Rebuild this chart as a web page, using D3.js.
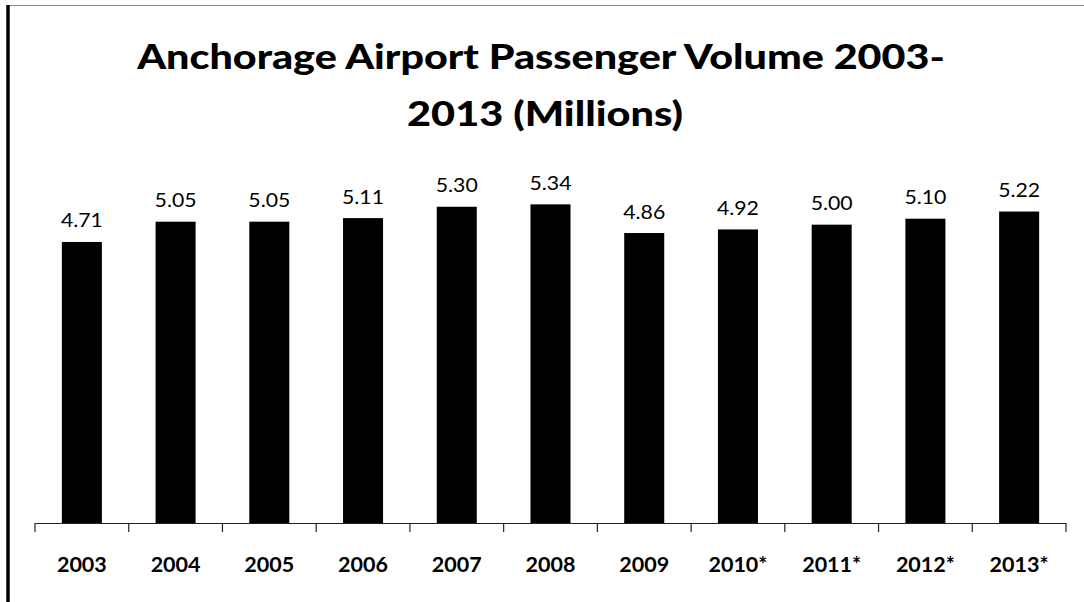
<!DOCTYPE html>
<html>
<head>
<meta charset="utf-8">
<script src="https://cdn.jsdelivr.net/npm/d3@7"></script>
<style>
  html, body { margin: 0; padding: 0; background: #fff; }
  svg { display: block; }
</style>
</head>
<body>
<script>
// Passenger volume at Anchorage airport, millions (starred years are estimates)
const years = ["2003", "2004", "2005", "2006", "2007", "2008", "2009", "2010*", "2011*", "2012*", "2013*"];
const passengers = [4.71, 5.05, 5.05, 5.11, 5.30, 5.34, 4.86, 4.92, 5.00, 5.10, 5.22];
const titleLines = ["Anchorage Airport Passenger Volume 2003-", "2013 (Millions)"];

const W = 1084, H = 602;
const svg = d3.select("body").append("svg").attr("width", W).attr("height", H);

// frame: thin grey top edge, heavy black left edge
svg.append("line").attr("x1", 8).attr("x2", W).attr("y1", 5.5).attr("y2", 5.5)
  .attr("stroke", "#8a8a8a").attr("stroke-width", 1.2);
svg.append("line").attr("x1", 8).attr("x2", 8).attr("y1", 5).attr("y2", H)
  .attr("stroke", "#000").attr("stroke-width", 3.5);

const plot = { left: 35, right: 1066, top: 165, bottom: 523 };

const x = d3.scaleBand().domain(years).range([plot.left, plot.right])
  .paddingInner(0.573).paddingOuter(0.2865);
const y = d3.scaleLinear().domain([0, 6]).range([plot.bottom, plot.top]);

// stretch a centred text horizontally so it spans the given width
function fitWidth(sel, target) {
  sel.each(function () {
    const t = d3.select(this);
    const cx = +t.attr("x");
    const w = this.getComputedTextLength();
    const sx = target / w;
    t.attr("transform", `translate(${cx},0) scale(${sx.toFixed(3)},1) translate(${-cx},0)`);
  });
}

const font = "Lato, 'Open Sans', sans-serif";

// title
svg.append("text").attr("x", 541).attr("y", 69).attr("text-anchor", "middle")
  .attr("font-family", font).attr("font-weight", 900).attr("font-size", 34)
  .text(titleLines[0]).call(fitWidth, 808);
svg.append("text").attr("x", 545).attr("y", 126).attr("text-anchor", "middle")
  .attr("font-family", font).attr("font-weight", 900).attr("font-size", 34)
  .text(titleLines[1]).call(fitWidth, 276);

// bars
const data = years.map((yr, i) => ({ yr, v: passengers[i] }));
svg.append("g").selectAll("rect").data(data).join("rect")
  .attr("x", d => x(d.yr))
  .attr("y", d => y(d.v))
  .attr("width", x.bandwidth())
  .attr("height", d => y(0) - y(d.v))
  .attr("fill", "#000");

// value labels
svg.append("g").selectAll("text").data(data).join("text")
  .attr("x", d => x(d.yr) + x.bandwidth() / 2)
  .attr("y", d => y(d.v) - 14.5)
  .attr("text-anchor", "middle")
  .attr("font-family", font).attr("font-size", 18.5).attr("fill", "#000")
  .text(d => d.v.toFixed(2))
  .call(fitWidth, 42);

// category axis with ticks between bands
const axis = svg.append("g").attr("transform", `translate(0,${plot.bottom})`);
axis.append("line").attr("x1", plot.left).attr("x2", plot.right).attr("y1", 0.5).attr("y2", 0.5)
  .attr("stroke", "#222").attr("stroke-width", 1.2);
const step = x.step();
const boundaries = d3.range(years.length + 1).map(i => plot.left + i * step);
axis.selectAll("line.tick").data(boundaries).join("line").attr("class", "tick")
  .attr("x1", d => d).attr("x2", d => d).attr("y1", 0).attr("y2", 9)
  .attr("stroke", "#222").attr("stroke-width", 1.2);
axis.selectAll("text").data(years).join("text")
  .attr("x", d => x(d) + x.bandwidth() / 2)
  .attr("y", 49)
  .attr("text-anchor", "middle")
  .attr("font-family", font).attr("font-weight", 700).attr("font-size", 21.5).attr("fill", "#000")
  .text(d => d);
</script>
</body>
</html>
